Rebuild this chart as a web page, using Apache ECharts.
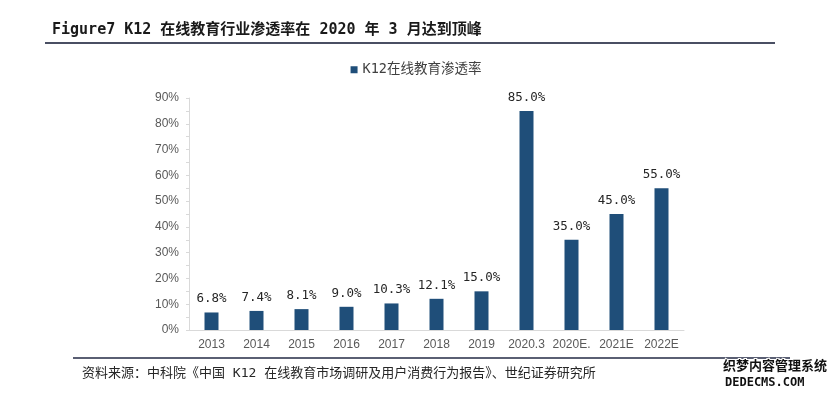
<!DOCTYPE html>
<html><head><meta charset="utf-8">
<script src="https://cdn.jsdelivr.net/npm/echarts@6/dist/echarts.min.js"></script>
<style>html,body{margin:0;padding:0;background:#fff}#c{width:832px;height:394px}</style>
</head><body><div id="c"></div>
<script>
const categories = ['2013','2014','2015','2016','2017','2018','2019','2020.3','2020E.','2021E','2022E'];
const values = [6.8, 7.4, 8.1, 9.0, 10.3, 12.1, 15.0, 85.0, 35.0, 45.0, 55.0];
const seriesName = 'K12在线教育渗透率';
const titleText = 'Figure7 K12 在线教育行业渗透率在 2020 年 3 月达到顶峰';
const sourceText = '资料来源：中科院《中国 K12 在线教育市场调研及用户消费行为报告》、世纪证券研究所';
const yMin = 0, yMax = 90, yStep = 10;

const chart = echarts.init(document.getElementById('c'));
const cjk = '"Noto Sans CJK SC", sans-serif';
const mono = '"DejaVu Sans Mono", "Noto Sans CJK SC", monospace';
chart.setOption({
  animation: false,
  backgroundColor: '#fff',
  legend: {
    data: [seriesName], top: 58, left: 'center', itemWidth: 7, itemHeight: 7, itemGap: 4,
    icon: 'rect',
    textStyle: { fontFamily: mono, fontSize: 13.5, color: '#404040' }
  },
  grid: { left: 189, right: 148, top: 98, bottom: 64 },
  xAxis: {
    type: 'category', data: categories,
    axisLine: { lineStyle: { color: '#d9d9d9', width: 1 } },
    axisTick: { show: false },
    axisLabel: { color: '#595959', fontSize: 12, fontFamily: 'Liberation Sans, Arial', margin: 9, interval: 0 }
  },
  yAxis: {
    type: 'value', min: yMin, max: yMax, interval: yStep,
    splitLine: { show: false },
    axisLine: { show: true, lineStyle: { color: '#d9d9d9' } },
    axisTick: { show: true, length: 3, lineStyle: { color: '#d9d9d9' } },
    minorTick: { show: true, splitNumber: 2, length: 3, lineStyle: { color: '#d9d9d9' } },
    axisLabel: { formatter: '{value}%', color: '#595959', fontSize: 12, fontFamily: 'Liberation Sans, Arial', margin: 10 }
  },
  series: [{
    name: seriesName, type: 'bar', data: values, barWidth: 14,
    itemStyle: { color: '#1f4e79' },
    label: {
      show: true, position: 'top', distance: 7, color: '#262626', fontSize: 12.5,
      fontFamily: mono,
      formatter: p => p.value.toFixed(1) + '%'
    }
  }],
  graphic: [
    { type: 'text', left: 52, top: 23, style: { text: titleText, fontFamily: mono, fontSize: 15, fontWeight: 'bold', fill: '#1a1a1a' } },
    { type: 'rect', shape: { x: 45, y: 42, width: 730, height: 2 }, style: { fill: '#4a4f63' } },
    { type: 'rect', shape: { x: 73, y: 357, width: 717, height: 2 }, style: { fill: '#5a5f73' } },
    { type: 'text', left: 82, top: 367, style: { text: sourceText, fontFamily: mono, fontSize: 13, fill: '#262626' } },
    { type: 'text', left: 722, top: 358, style: { text: '织梦内容管理系统', fontFamily: cjk, fontSize: 13, fontWeight: 'bold', fill: '#111', stroke: '#fff', lineWidth: 2 } },
    { type: 'text', left: 724, top: 376, style: { text: 'DEDECMS.COM', fontFamily: 'DejaVu Sans Mono', fontSize: 12, fontWeight: 'bold', fill: '#111', stroke: '#fff', lineWidth: 2 } }
  ]
});
</script></body></html>
